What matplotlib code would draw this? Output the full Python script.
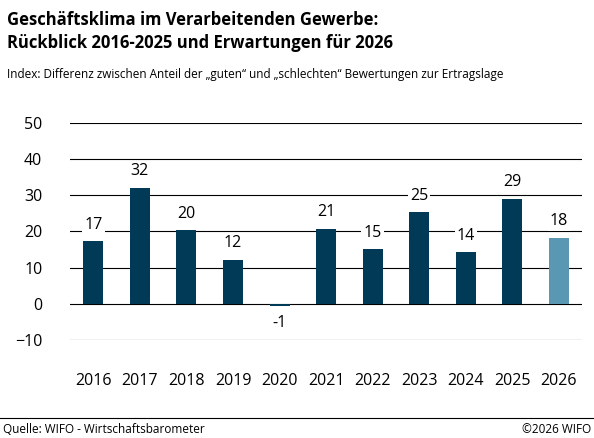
import matplotlib

matplotlib.use("Agg")
import matplotlib.pyplot as plt

years = ["2016", "2017", "2018", "2019", "2020", "2021", "2022", "2023", "2024", "2025", "2026"]
values = [17.4, 32.1, 20.4, 12.2, -0.7, 20.8, 15.1, 25.3, 14.3, 29.1, 18.3]
labels = ["17", "32", "20", "12", "-1", "21", "15", "25", "14", "29", "18"]
dark = "#003a57"
light = "#5a97b3"
colors = [dark] * 10 + [light]

plt.rcParams["font.family"] = ["Open Sans", "DejaVu Sans"]

fig = plt.figure(figsize=(5.94, 4.38), dpi=100)
ax = fig.add_axes([0.118, 0.224, 0.862, 0.495])

x = range(len(years))
ax.bar(x, values, width=0.43, color=colors, zorder=3)
for xi, v, lab in zip(x, values, labels):
    if v >= 0:
        ax.annotate(lab, (xi, v), xytext=(0, 6), textcoords="offset points",
                    ha="center", va="bottom", fontsize=11.5, zorder=4,
                    bbox=dict(facecolor="white", edgecolor="none", pad=1.5))
    else:
        ax.annotate(lab, (xi, v), xytext=(0, -6), textcoords="offset points",
                    ha="center", va="top", fontsize=11.5, zorder=4,
                    bbox=dict(facecolor="white", edgecolor="none", pad=1.5))

ax.set_ylim(-10, 50)
ax.set_xlim(-0.5, 10.5)
ax.set_yticks(range(-10, 51, 10))
ax.yaxis.grid(True, color="black", linewidth=0.8, zorder=0)
ax.set_xticks(list(x))
ax.set_xticklabels(years)
ax.tick_params(axis="both", length=0, labelsize=11.5)
ax.tick_params(axis="x", pad=24)
ax.tick_params(axis="y", pad=20)
for s in ax.spines.values():
    s.set_visible(False)

fig.text(0.012, 0.975, "Geschäftsklima im Verarbeitenden Gewerbe:\nRückblick 2016-2025 und Erwartungen für 2026",
         fontsize=12, fontweight="bold", va="top", linespacing=1.35)
fig.text(0.012, 0.845, "Index: Differenz zwischen Anteil der „guten“ und „schlechten“ Bewertungen zur Ertragslage",
         fontsize=8.5, va="top")
fig.add_artist(plt.Line2D([0, 1], [0.045, 0.045], color="black", linewidth=0.8))
fig.text(0.005, 0.012, "Quelle: WIFO - Wirtschaftsbarometer", fontsize=8.5)
fig.text(0.995, 0.012, "©2026 WIFO", fontsize=8.5, ha="right")

fig.savefig("out.png", dpi=100)
